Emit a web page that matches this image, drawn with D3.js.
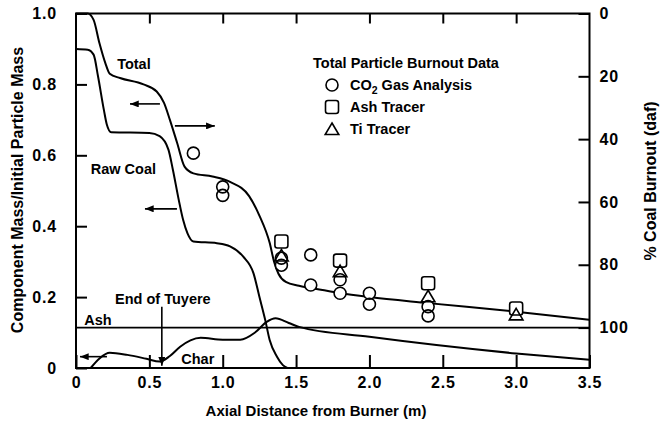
<!DOCTYPE html>
<html>
<head>
<meta charset="utf-8">
<script src="https://cdn.jsdelivr.net/npm/d3@7"></script>
<style>
body { margin: 0; background: #fff; }
text { font-family: "Liberation Sans", Arial, sans-serif; font-weight: bold; fill: #000; }
</style>
</head>
<body>
<svg id="chart"></svg>
<script>
// model curves: axial distance (m) vs component mass / initial particle mass
var totalX = [0, 0.08, 0.12, 0.16, 0.2, 0.23, 0.3, 0.46, 0.55, 0.6, 0.64, 0.69, 0.74, 0.8, 0.93, 1.05, 1.18, 1.25, 1.32, 1.35, 1.38, 1.43, 1.52, 1.68, 1.79, 2.0, 2.4, 3.0, 3.5]
var totalY = [1.0, 1.0, 0.982, 0.916, 0.86, 0.83, 0.818, 0.8, 0.78, 0.748, 0.70, 0.634, 0.568, 0.549, 0.54, 0.525, 0.485, 0.43, 0.353, 0.3, 0.266, 0.243, 0.232, 0.22, 0.212, 0.2, 0.183, 0.159, 0.136]
var rawX = [0, 0.08, 0.12, 0.15, 0.19, 0.21, 0.24, 0.5, 0.57, 0.63, 0.66, 0.7, 0.73, 0.76, 0.8, 0.96, 1.05, 1.14, 1.21, 1.25, 1.29, 1.32, 1.37, 1.41, 1.44]
var rawY = [0.9, 0.898, 0.884, 0.823, 0.728, 0.687, 0.665, 0.663, 0.654, 0.616, 0.56, 0.475, 0.418, 0.38, 0.357, 0.352, 0.343, 0.314, 0.267, 0.201, 0.135, 0.079, 0.032, 0.008, 0]
var charX = [0.1, 0.16, 0.23, 0.35, 0.48, 0.57, 0.64, 0.71, 0.78, 0.85, 1.0, 1.12, 1.22, 1.3, 1.36, 1.45, 1.52, 2.0, 3.0, 3.5]
var charY = [0, 0.027, 0.043, 0.037, 0.026, 0.018, 0.034, 0.06, 0.078, 0.085, 0.08, 0.08, 0.1, 0.13, 0.14, 0.127, 0.116, 0.088, 0.041, 0.023]
var ashLevel = 0.114

// total particle burnout data
var co2X = [0.8, 1.0, 1.0, 1.4, 1.4, 1.6, 1.6, 1.8, 1.8, 2.0, 2.0, 2.4, 2.4]
var co2Y = [0.606, 0.511, 0.487, 0.31, 0.29, 0.319, 0.234, 0.249, 0.211, 0.211, 0.18, 0.173, 0.147]
var ashTracerX = [1.4, 1.8, 2.4, 3.0]
var ashTracerY = [0.357, 0.303, 0.239, 0.168]
var tiTracerX = [1.4, 1.8, 2.4, 3.0]
var tiTracerY = [0.316, 0.272, 0.201, 0.15]

var xTicks = [0, 0.5, 1.0, 1.5, 2.0, 2.5, 3.0, 3.5]
var yTicks = [0, 0.2, 0.4, 0.6, 0.8, 1.0]
var burnoutTicks = [0, 20, 40, 60, 80, 100]

var width = 667, height = 423

var svg = d3.select("#chart").attr("width", width).attr("height", height)
svg.append("rect").attr("width", width).attr("height", height).attr("fill", "#fff")

var x = d3.scaleLinear().domain([0, 3.5]).range([76, 589.5])
var y = d3.scaleLinear().domain([0, 1]).range([368, 13.5])
var yR = d3.scaleLinear().domain([0, 100]).range([y(1), y(ashLevel)])

var fmt = function(d) { return d === 0 ? "0" : d3.format(".1f")(d) }

svg.append("defs").append("marker")
    .attr("id", "head")
    .attr("viewBox", "0 0 10 8")
    .attr("refX", 10).attr("refY", 4)
    .attr("markerWidth", 10).attr("markerHeight", 7)
    .attr("markerUnits", "userSpaceOnUse")
    .attr("orient", "auto")
  .append("path").attr("d", "M0,0L10,4L0,8Z").attr("fill", "#000")

function styleAxis(g) {
    g.select(".domain").remove()
    g.selectAll(".tick line").attr("stroke", "#000").attr("stroke-width", 2)
    g.selectAll("text")
        .attr("font-family", "Liberation Sans, Arial, sans-serif")
        .attr("font-weight", "bold")
        .attr("font-size", 16)
        .attr("letter-spacing", 0.8)
        .attr("fill", "#000")
}

// axes
svg.append("g").attr("transform", "translate(0," + y(0) + ")")
    .call(d3.axisBottom(x).tickValues(xTicks).tickSize(-13).tickPadding(9).tickFormat(fmt))
    .call(styleAxis)
svg.append("g").attr("transform", "translate(0," + y(1) + ")")
    .call(d3.axisTop(x).tickValues(xTicks.slice(1, -1)).tickSize(-10).tickFormat(""))
    .call(styleAxis)
svg.append("g").attr("transform", "translate(" + x(0) + ",0)")
    .call(d3.axisLeft(y).tickValues(yTicks).tickSize(-11).tickPadding(19).tickFormat(fmt))
    .call(styleAxis)
svg.append("g").attr("transform", "translate(" + x(3.5) + ",0)")
    .call(d3.axisRight(yR).tickValues(burnoutTicks).tickSize(-11).tickPadding(10))
    .call(styleAxis)

svg.append("rect")
    .attr("x", x(0)).attr("y", y(1))
    .attr("width", x(3.5) - x(0)).attr("height", y(0) - y(1))
    .attr("fill", "none").attr("stroke", "#000").attr("stroke-width", 2)

// ash level
svg.append("line")
    .attr("x1", x(0)).attr("x2", x(3.5))
    .attr("y1", y(ashLevel)).attr("y2", y(ashLevel))
    .attr("stroke", "#000").attr("stroke-width", 1.6)

var line = d3.line()
    .x(function(d) { return x(d[0]) })
    .y(function(d) { return y(d[1]) })
    .curve(d3.curveMonotoneX)

function drawCurve(xs, ys) {
    svg.append("path")
        .datum(d3.zip(xs, ys))
        .attr("d", line)
        .attr("fill", "none")
        .attr("stroke", "#000")
        .attr("stroke-width", 2)
}
drawCurve(totalX, totalY)
drawCurve(rawX, rawY)
drawCurve(charX, charY)

// arrows
function arrow(x1, y1, x2, y2) {
    svg.append("line")
        .attr("x1", x(x1)).attr("y1", y(y1))
        .attr("x2", x(x2)).attr("y2", y(y2))
        .attr("stroke", "#000").attr("stroke-width", 1.6)
        .attr("marker-end", "url(#head)")
}
arrow(0.572, 0.745, 0.368, 0.745)
arrow(0.674, 0.683, 0.946, 0.683)
arrow(0.688, 0.449, 0.47, 0.449)
arrow(0.211, 0.032, 0.027, 0.032)
arrow(0.585, 0.173, 0.585, 0.006)

// markers
var circlePts = d3.zip(co2X, co2Y)
var squarePts = d3.zip(ashTracerX, ashTracerY)
var trianglePts = d3.zip(tiTracerX, tiTracerY)
var triPath = "M0,-6.5L6.8,5L-6.8,5Z"

function drawMarkers(fill, stroke) {
    var g = svg.append("g").attr("fill", fill).attr("stroke", stroke).attr("stroke-width", 1.6)
    g.selectAll("circle").data(circlePts).enter().append("circle")
        .attr("cx", function(d) { return x(d[0]) })
        .attr("cy", function(d) { return y(d[1]) })
        .attr("r", 6)
    g.selectAll("rect").data(squarePts).enter().append("rect")
        .attr("x", function(d) { return x(d[0]) - 6.5 })
        .attr("y", function(d) { return y(d[1]) - 6.5 })
        .attr("width", 13).attr("height", 13).attr("rx", 2.5)
    g.selectAll("path").data(trianglePts).enter().append("path")
        .attr("d", triPath)
        .attr("transform", function(d) { return "translate(" + x(d[0]) + "," + y(d[1]) + ")" })
}
drawMarkers("#fff", "none")
drawMarkers("none", "#000")

// annotations
function label(tx, ty, str, size, anchor) {
    return svg.append("text")
        .attr("x", x(tx)).attr("y", y(ty))
        .attr("dy", "0.35em")
        .attr("text-anchor", anchor || "middle")
        .attr("font-size", size)
        .text(str)
}
label(0.395, 0.858, "Total", 14.5)
label(0.323, 0.561, "Raw Coal", 14.5)
label(0.592, 0.195, "End of Tuyere", 14.5)
label(0.15, 0.135, "Ash", 14.5)
label(0.83, 0.025, "Char", 14.5)

// legend
var lg = svg.append("g")
lg.append("text").attr("x", 406).attr("y", 63).attr("dy", "0.35em")
    .attr("text-anchor", "middle").attr("font-size", 14.5).text("Total Particle Burnout Data")
var legendRows = [85, 107, 129]
lg.append("circle").attr("cx", 332).attr("cy", legendRows[0]).attr("r", 6)
    .attr("fill", "none").attr("stroke", "#000").attr("stroke-width", 1.6)
lg.append("rect").attr("x", 325.5).attr("y", legendRows[1] - 6.5).attr("width", 13).attr("height", 13).attr("rx", 2.5)
    .attr("fill", "none").attr("stroke", "#000").attr("stroke-width", 1.6)
lg.append("path").attr("d", triPath).attr("transform", "translate(332," + (legendRows[2] + 0.5) + ")")
    .attr("fill", "none").attr("stroke", "#000").attr("stroke-width", 1.6)
var co2 = lg.append("text").attr("x", 350).attr("y", legendRows[0]).attr("dy", "0.35em").attr("font-size", 14.5)
co2.append("tspan").text("CO")
co2.append("tspan").attr("font-size", 10.5).attr("dy", 4).text("2")
co2.append("tspan").attr("dy", -4).text(" Gas Analysis")
lg.append("text").attr("x", 350).attr("y", legendRows[1]).attr("dy", "0.35em").attr("font-size", 14.5).text("Ash Tracer")
lg.append("text").attr("x", 350).attr("y", legendRows[2]).attr("dy", "0.35em").attr("font-size", 14.5).text("Ti Tracer")

// axis titles
svg.append("text").attr("x", 316).attr("y", 411).attr("dy", "0.35em")
    .attr("text-anchor", "middle").attr("font-size", 15).text("Axial Distance from Burner (m)")
svg.append("text").attr("transform", "translate(17,190) rotate(-90)").attr("dy", "0.35em")
    .attr("text-anchor", "middle").attr("font-size", 16).text("Component Mass/Initial Particle Mass")
svg.append("text").attr("transform", "translate(650,181) rotate(-90)").attr("dy", "0.35em")
    .attr("text-anchor", "middle").attr("font-size", 16).text("% Coal Burnout (daf)")
</script>
</body>
</html>
